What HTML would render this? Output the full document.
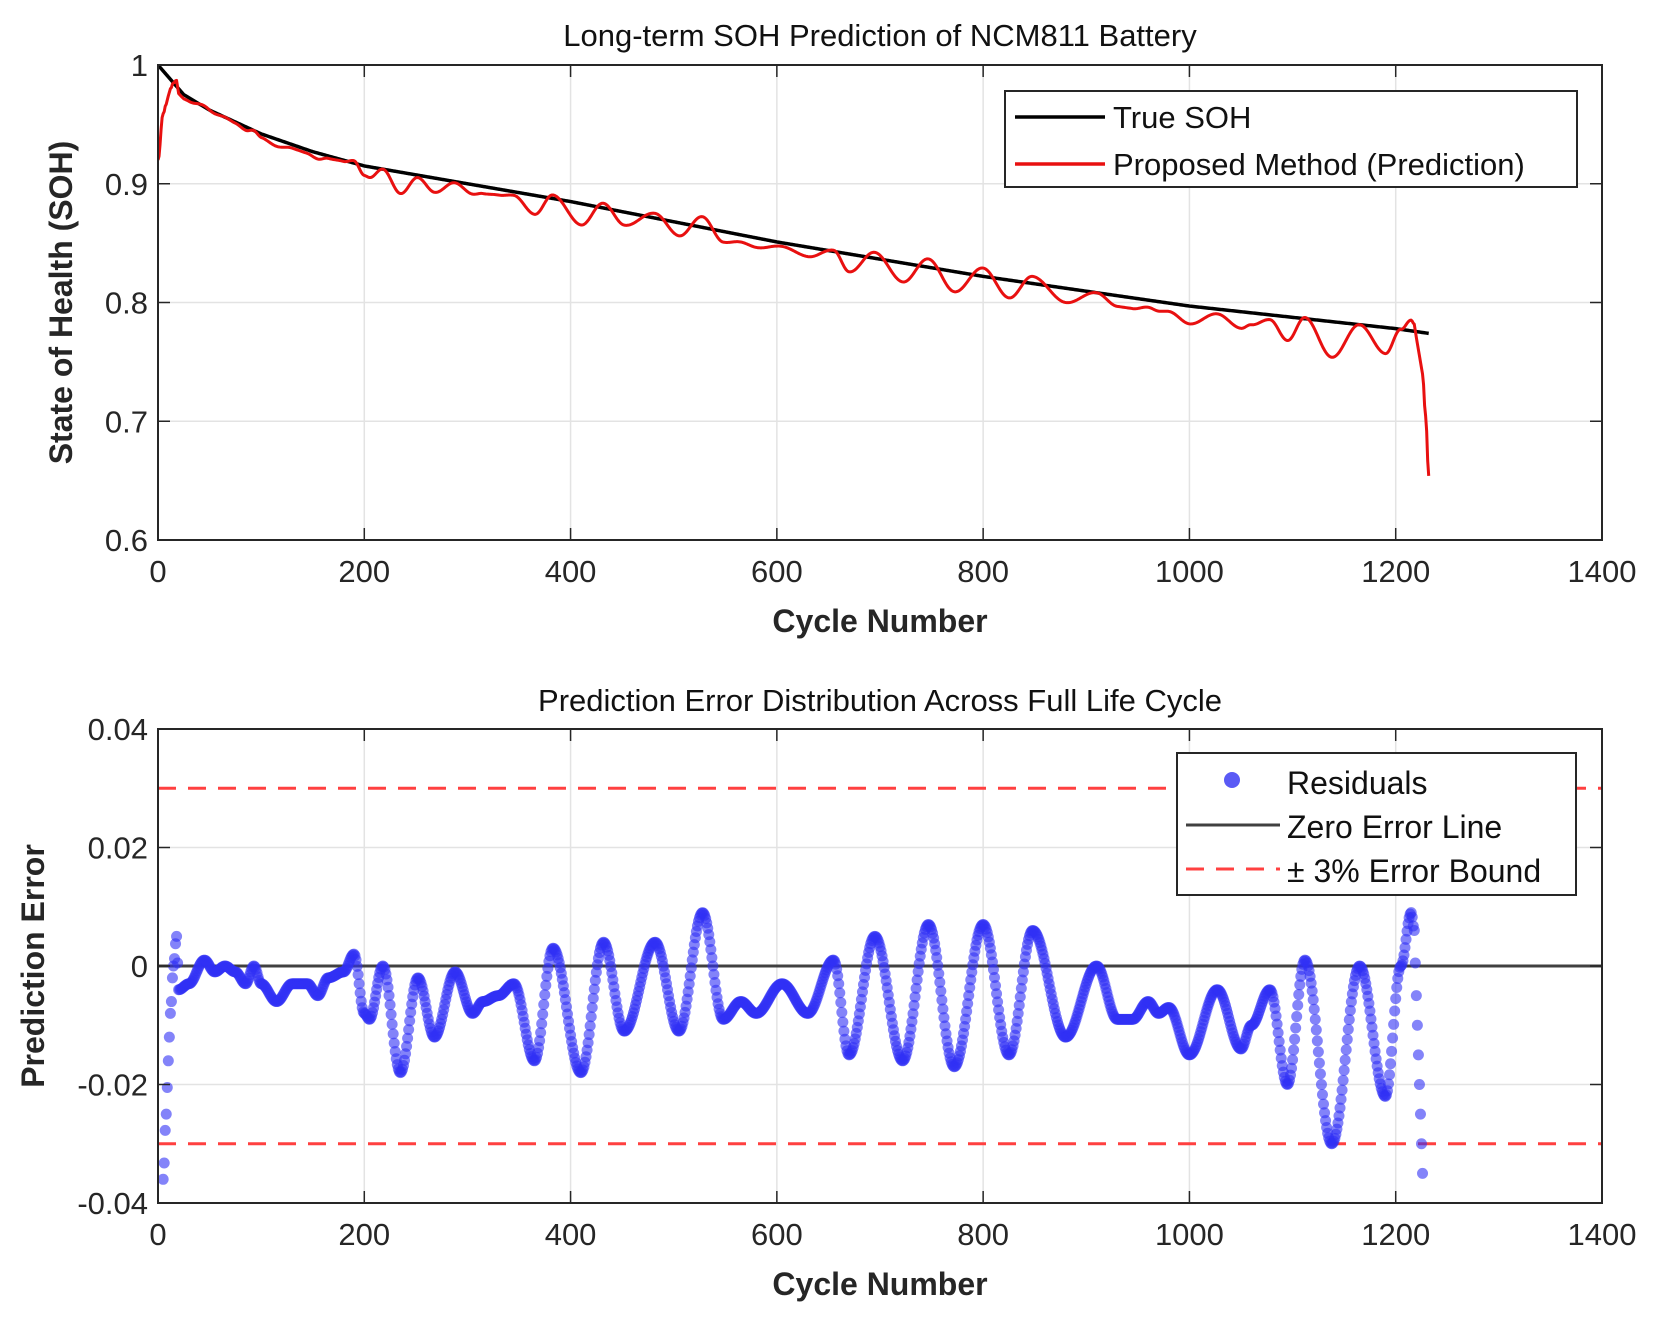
<!DOCTYPE html>
<html><head><meta charset="utf-8"><style>
html,body{margin:0;padding:0;background:#fff;}
svg{display:block;font-family:"Liberation Sans",Arial,sans-serif;}
</style></head><body>
<svg id="fig" width="1659" height="1329" viewBox="0 0 1659 1329" xmlns="http://www.w3.org/2000/svg">
<defs>
<clipPath id="clipTop"><rect x="158" y="65" width="1444" height="475"/></clipPath>
<clipPath id="clipBot"><rect x="158" y="729" width="1444" height="474"/></clipPath>
</defs>
<g id="top"></g>
<g id="bot"></g>
</svg>
<script>
// ---- data ----
const xTicks = [0,200,400,600,800,1000,1200,1400];
const topYTicks = [0.6,0.7,0.8,0.9,1];
const topYTickLabels = ["0.6","0.7","0.8","0.9","1"];
const botYTicks = [-0.04,-0.02,0,0.02,0.04];
const botYTickLabels = ["-0.04","-0.02","0","0.02","0.04"];
const trueCycles = [0,10,25,50,100,150,200,400,600,800,1000,1200,1232];
const trueSOH = [1.0,0.99,0.975,0.962,0.942,0.927,0.915,0.885,0.851,0.822,0.797,0.778,0.774];
const resCycles = [0,5,8,10,12,15,18,20,30,45,55,65,75,85,93,100,115,130,145,155,165,180,190,200,205,218,235,252,268,288,305,315,330,345,365,383,410,432,452,482,505,528,548,565,580,605,630,655,670,695,722,747,772,800,825,848,880,910,930,945,960,970,980,1000,1027,1050,1060,1078,1095,1112,1138,1165,1190,1205,1215,1218,1220,1222,1224,1226,1229,1232];
const residuals = [-0.08,-0.036,-0.025,-0.016,-0.008,0.0,0.005,-0.004,-0.003,0.001,-0.001,0.0,-0.001,-0.003,0.0,-0.003,-0.006,-0.003,-0.003,-0.005,-0.002,-0.001,0.002,-0.008,-0.009,0.0,-0.018,-0.002,-0.012,-0.001,-0.008,-0.006,-0.005,-0.003,-0.016,0.003,-0.018,0.004,-0.011,0.004,-0.011,0.009,-0.009,-0.006,-0.008,-0.003,-0.008,0.001,-0.015,0.005,-0.016,0.007,-0.017,0.007,-0.015,0.006,-0.012,0.0,-0.009,-0.009,-0.006,-0.008,-0.007,-0.015,-0.004,-0.014,-0.01,-0.004,-0.02,0.001,-0.03,0.0,-0.022,0.0,0.009,0.006,-0.005,-0.015,-0.025,-0.035,-0.07,-0.12];
const boundValue = 0.03;

// ---- axes ----
const X0=158,X1=1602;
const sx = c => X0 + (c/1400)*(X1-X0);
const T0=65,T1=540, syT = v => T1 - (v-0.6)/0.4*(T1-T0);
const B0=729,B1=1203, syB = v => B1 - (v+0.04)/0.08*(B1-B0);
const NS="http://www.w3.org/2000/svg";
function mk(tag,attrs,parent,text){const e=document.createElementNS(NS,tag);for(const k in attrs)e.setAttribute(k,attrs[k]);if(text!==undefined)e.textContent=text;parent.appendChild(e);return e;}
function interp(xs,ys,c){
  for(let i=0;i<xs.length-1;i++){ if(c>=xs[i]&&c<=xs[i+1]){const t=(c-xs[i])/(xs[i+1]-xs[i]);const w=(1-Math.cos(Math.PI*t))/2;return ys[i]+(ys[i+1]-ys[i])*w;} }
  return ys[ys.length-1];
}
function lin(xs,ys,c){for(let i=0;i<xs.length-1;i++){if(c>=xs[i]&&c<=xs[i+1]){const t=(c-xs[i])/(xs[i+1]-xs[i]);return ys[i]+(ys[i+1]-ys[i])*t;}}return ys[ys.length-1];}
function monoTrue(c){ // smooth true curve via linear between keypoints (dense keypoints)
  return lin(trueCycles,trueSOH,c);
}
function drawFrame(g,yTop,yBot,yTicks,yLabels,sy,title,ylabel,ylabelX,titleY){
  // grid
  xTicks.forEach(t=>{const l=mk('line',{x1:sx(t),x2:sx(t),y1:yTop,y2:yBot,stroke:'#e3e3e3','stroke-width':1.5},g);
    
    });
  yTicks.forEach(t=>{const l=mk('line',{x1:X0,x2:X1,y1:sy(t),y2:sy(t),stroke:'#e3e3e3','stroke-width':1.5},g);
    
    });
}
function drawAxes(g,yTop,yBot,yTicks,yLabels,sy,title,ylabel,ylabelX,titleY){
  const box=mk('rect',{x:X0,y:yTop,width:X1-X0,height:yBot-yTop,fill:'none',stroke:'#262626','stroke-width':2},g);
  
  
  xTicks.forEach(t=>{
    mk('line',{x1:sx(t),x2:sx(t),y1:yBot,y2:yBot-12,stroke:'#262626','stroke-width':1.5},g);
    mk('line',{x1:sx(t),x2:sx(t),y1:yTop,y2:yTop+12,stroke:'#262626','stroke-width':1.5},g);
    const tx=mk('text',{x:sx(t),y:yBot+42,'text-anchor':'middle','font-size':31,fill:'#262626'},g,String(t));
    
    
  });
  yTicks.forEach((t,i)=>{
    mk('line',{x1:X0,x2:X0+12,y1:sy(t),y2:sy(t),stroke:'#262626','stroke-width':1.5},g);
    mk('line',{x1:X1,x2:X1-12,y1:sy(t),y2:sy(t),stroke:'#262626','stroke-width':1.5},g);
    const tx=mk('text',{x:X0-10,y:sy(t)+11,'text-anchor':'end','font-size':31,fill:'#262626'},g,yLabels[i]);
    
    
  });
  const ti=mk('text',{x:(X0+X1)/2,y:titleY,'text-anchor':'middle','font-size':31,fill:'#111'},g,title);
  
  
  const xl=mk('text',{x:(X0+X1)/2,y:yBot+92,'text-anchor':'middle','font-size':32,'font-weight':'bold',fill:'#262626'},g,'Cycle Number');
  
  
  const cy=(yTop+yBot)/2;
  const yl=mk('text',{x:ylabelX,y:cy,'text-anchor':'middle','font-size':32,'font-weight':'bold',fill:'#262626',transform:`rotate(-90 ${ylabelX} ${cy})`},g,ylabel);
  
  
}

// ---- top chart ----
const gT=document.getElementById('top');
drawFrame(gT,T0,T1,topYTicks,topYTickLabels,syT);
const maxC = trueCycles[trueCycles.length-1];
let dTrue='',dPred='';
for(let c=0;c<=maxC;c+=1){
  const tv=monoTrue(c); const pv=tv+interp(resCycles,residuals,c);
  dTrue+=(c?'L':'M')+sx(c).toFixed(2)+','+syT(tv).toFixed(2);
  dPred+=(c?'L':'M')+sx(c).toFixed(2)+','+syT(pv).toFixed(2);
}
const pt=mk('path',{d:dTrue,fill:'none',stroke:'#000','stroke-width':3.5,'clip-path':'url(#clipTop)'},gT);


const pp=mk('path',{d:dPred,fill:'none',stroke:'#e81010','stroke-width':3,'stroke-linejoin':'round','clip-path':'url(#clipTop)'},gT);


drawAxes(gT,T0,T1,topYTicks,topYTickLabels,syT,'Long-term SOH Prediction of NCM811 Battery','State of Health (SOH)',72,46);
// legend
const lgT=mk('g',{},gT);


mk('rect',{x:1005,y:91,width:572,height:96,fill:'#fff',stroke:'#262626','stroke-width':2},lgT);
mk('line',{x1:1015,x2:1105,y1:117,y2:117,stroke:'#000','stroke-width':3.5},lgT);
const le1=mk('text',{x:1113,y:128,'font-size':31,fill:'#111'},lgT,'True SOH');


mk('line',{x1:1015,x2:1105,y1:164,y2:164,stroke:'#e81010','stroke-width':3.5},lgT);
const le2=mk('text',{x:1113,y:175,'font-size':31,fill:'#111'},lgT,'Proposed Method (Prediction)');



// ---- bottom chart ----
const gB=document.getElementById('bot');
drawFrame(gB,B0,B1,botYTicks,botYTickLabels,syB);
[boundValue,-boundValue].forEach(v=>{
  const l=mk('line',{x1:X0,x2:X1,y1:syB(v),y2:syB(v),stroke:'#ff4040','stroke-width':3,'stroke-dasharray':'18 12'},gB);
  
  
});
const zl=mk('line',{x1:X0,x2:X1,y1:syB(0),y2:syB(0),stroke:'#404040','stroke-width':3},gB);


const dots=mk('g',{'clip-path':'url(#clipBot)',fill:'#3030f5','fill-opacity':0.6},gB);


for(let c=5;c<=1226;c+=1){
  const v=interp(resCycles,residuals,c);
  mk('circle',{cx:sx(c).toFixed(2),cy:syB(v).toFixed(2),r:5.5},dots);
}
drawAxes(gB,B0,B1,botYTicks,botYTickLabels,syB,'Prediction Error Distribution Across Full Life Cycle','Prediction Error',44,711);
const lgB=mk('g',{},gB);


mk('rect',{x:1177,y:753,width:399,height:142,fill:'#fff',stroke:'#262626','stroke-width':2},lgB);
mk('circle',{cx:1232,cy:780,r:8,fill:'#5a5af5'},lgB);
const l1=mk('text',{x:1287,y:794,'font-size':32,fill:'#111'},lgB,'Residuals');


mk('line',{x1:1186,x2:1280,y1:825,y2:825,stroke:'#404040','stroke-width':3},lgB);
const l2=mk('text',{x:1287,y:838,'font-size':32,fill:'#111'},lgB,'Zero Error Line');


mk('line',{x1:1186,x2:1280,y1:869,y2:869,stroke:'#ff4040','stroke-width':3,'stroke-dasharray':'18 12'},lgB);
const l3=mk('text',{x:1287,y:882,'font-size':32,fill:'#111'},lgB,'\u00b1 3% Error Bound');


</script>
</body></html>
